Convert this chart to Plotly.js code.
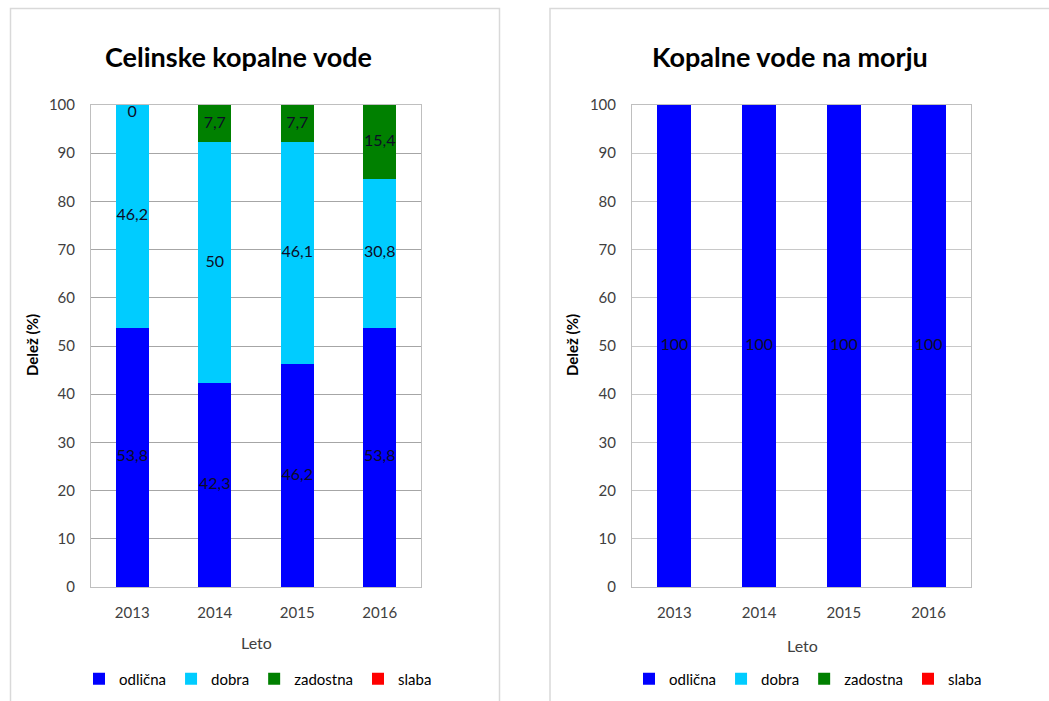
<!DOCTYPE html>
<html>
<head>
<meta charset="utf-8">
<script src="https://cdn.plot.ly/plotly-3.0.1.min.js"></script>
<style>html,body{margin:0;padding:0;background:#fff;}#chart{width:1049px;height:701px;}</style>
</head>
<body>
<div id="chart"></div>
<script>
const years = ['2013', '2014', '2015', '2016'];
const seriesNames = ['odlična', 'dobra', 'zadostna', 'slaba'];
const colors = ['#0000ff', '#00ccff', '#008000', '#ff0000'];
// Celinske kopalne vode
const celOdlicna = [53.8, 42.3, 46.2, 53.8];
const celDobra = [46.2, 50, 46.1, 30.8];
const celZadostna = [0, 7.7, 7.7, 15.4];
const celSlaba = [null, null, null, null];
// Kopalne vode na morju
const morOdlicna = [100, 100, 100, 100];
const morDobra = [null, null, null, null];
const morZadostna = [null, null, null, null];
const morSlaba = [null, null, null, null];
const titleLeft = 'Celinske kopalne vode';
const titleRight = 'Kopalne vode na morju';
const yTitle = 'Delež (%)';
const xTitle = 'Leto';

const FONT = 'Lato, "Open Sans", sans-serif';
const traces = [];
function addChart(series, xa, ya, legendId) {
  const base = [0, 0, 0, 0];
  series.forEach((vals, i) => {
    traces.push({
      type: 'bar', x: years, y: vals, name: seriesNames[i],
      xaxis: xa, yaxis: ya, legend: legendId,
      marker: {color: colors[i], line: {width: 0}},
      width: 0.4, hoverinfo: 'x+y+name'
    });
    const ly = [], lt = [], lp = [];
    vals.forEach((v, j) => {
      if (v === null || v === undefined) return;
      ly.push(base[j] + v / 2);
      lt.push(String(v).replace('.', ','));
      lp.push(v === 0 ? 'bottom center' : 'middle center');
      base[j] += v;
    });
    const lx = years.filter((_, j) => vals[j] !== null && vals[j] !== undefined);
    if (lx.length) {
      traces.push({
        type: 'scatter', mode: 'text', x: lx, y: ly, text: lt, textposition: lp,
        xaxis: xa, yaxis: ya, showlegend: false, hoverinfo: 'skip', cliponaxis: false,
        textfont: {family: FONT, size: 16, color: '#0d0d26'}
      });
    }
  });
}
addChart([celOdlicna, celDobra, celZadostna, celSlaba], 'x', 'y', 'legend');
addChart([morOdlicna, morDobra, morZadostna, morSlaba], 'x2', 'y2', 'legend2');

const tickFont = {family: FONT, size: 15, color: '#404040'};
function yax(domain, anchor, gridcolor) {
  return {
    domain: domain, anchor: anchor, range: [0, 100], dtick: 10, tick0: 0,
    showgrid: true, gridcolor: gridcolor, gridwidth: 1, zeroline: false,
    showline: true, linecolor: '#bfbfbf', linewidth: 1, mirror: true,
    ticks: '', tickfont: tickFont, ticklabelstandoff: 12, fixedrange: true
  };
}
function xax(domain, anchor) {
  return {
    domain: domain, anchor: anchor, type: 'category',
    showgrid: false, zeroline: false, showline: true, linecolor: '#bfbfbf', linewidth: 1, mirror: true,
    ticks: '', tickfont: tickFont, ticklabelstandoff: 12, fixedrange: true
  };
}
const yd = [114 / 701, 596 / 701];
const legendFont = {family: FONT, size: 15, color: '#000'};
const layout = {
  width: 1049, height: 701,
  margin: {l: 0, r: 0, t: 0, b: 0},
  paper_bgcolor: '#fff', plot_bgcolor: '#fff',
  barmode: 'stack', bargap: 0.6,
  font: {family: FONT},
  xaxis: xax([91 / 1049, 421 / 1049], 'y'),
  yaxis: yax(yd, 'x', '#a6a6a6'),
  xaxis2: xax([632 / 1049, 971 / 1049], 'y2'),
  yaxis2: yax(yd, 'x2', '#c8c8c8'),
  legend: {orientation: 'h', x: 258 / 1049, xanchor: 'center', y: 22 / 701, yanchor: 'middle',
    font: legendFont, itemwidth: 30, traceorder: 'normal', bgcolor: 'rgba(0,0,0,0)'},
  legend2: {orientation: 'h', x: 808 / 1049, xanchor: 'center', y: 22 / 701, yanchor: 'middle',
    font: legendFont, itemwidth: 30, traceorder: 'normal', bgcolor: 'rgba(0,0,0,0)'},
  shapes: [
    {type: 'rect', xref: 'paper', yref: 'paper', x0: 10.5 / 1049, x1: 499.5 / 1049, y0: -0.05, y1: 1 - 8.5 / 701,
      line: {color: '#d9d9d9', width: 1.5}, layer: 'below'},
    {type: 'rect', xref: 'paper', yref: 'paper', x0: 550 / 1049, x1: 1.05, y0: -0.05, y1: 1 - 8.5 / 701,
      line: {color: '#d9d9d9', width: 1.5}, layer: 'below'}
  ],
  annotations: [
    {text: '<b>' + titleLeft + '</b>', xref: 'paper', yref: 'paper', x: 238 / 1049, y: 1 - 56 / 701,
      showarrow: false, font: {family: FONT, size: 27, color: '#000'}, xanchor: 'center', yanchor: 'middle'},
    {text: '<b>' + titleRight + '</b>', xref: 'paper', yref: 'paper', x: 790 / 1049, y: 1 - 56 / 701,
      showarrow: false, font: {family: FONT, size: 27, color: '#000'}, xanchor: 'center', yanchor: 'middle'},
    {text: '<b>' + yTitle + '</b>', xref: 'paper', yref: 'paper', x: 32 / 1049, y: 1 - 345 / 701, textangle: -90,
      showarrow: false, font: {family: FONT, size: 15, color: '#000'}, xanchor: 'center', yanchor: 'middle'},
    {text: '<b>' + yTitle + '</b>', xref: 'paper', yref: 'paper', x: 572 / 1049, y: 1 - 345 / 701, textangle: -90,
      showarrow: false, font: {family: FONT, size: 15, color: '#000'}, xanchor: 'center', yanchor: 'middle'},
    {text: xTitle, xref: 'paper', yref: 'paper', x: 256 / 1049, y: 1 - 642 / 701,
      showarrow: false, font: {family: FONT, size: 16, color: '#404040'}, xanchor: 'center', yanchor: 'middle'},
    {text: xTitle, xref: 'paper', yref: 'paper', x: 802 / 1049, y: 1 - 645 / 701,
      showarrow: false, font: {family: FONT, size: 16, color: '#404040'}, xanchor: 'center', yanchor: 'middle'}
  ]
};
Plotly.newPlot('chart', traces, layout, {displayModeBar: false, staticPlot: true});
</script>
</body>
</html>
